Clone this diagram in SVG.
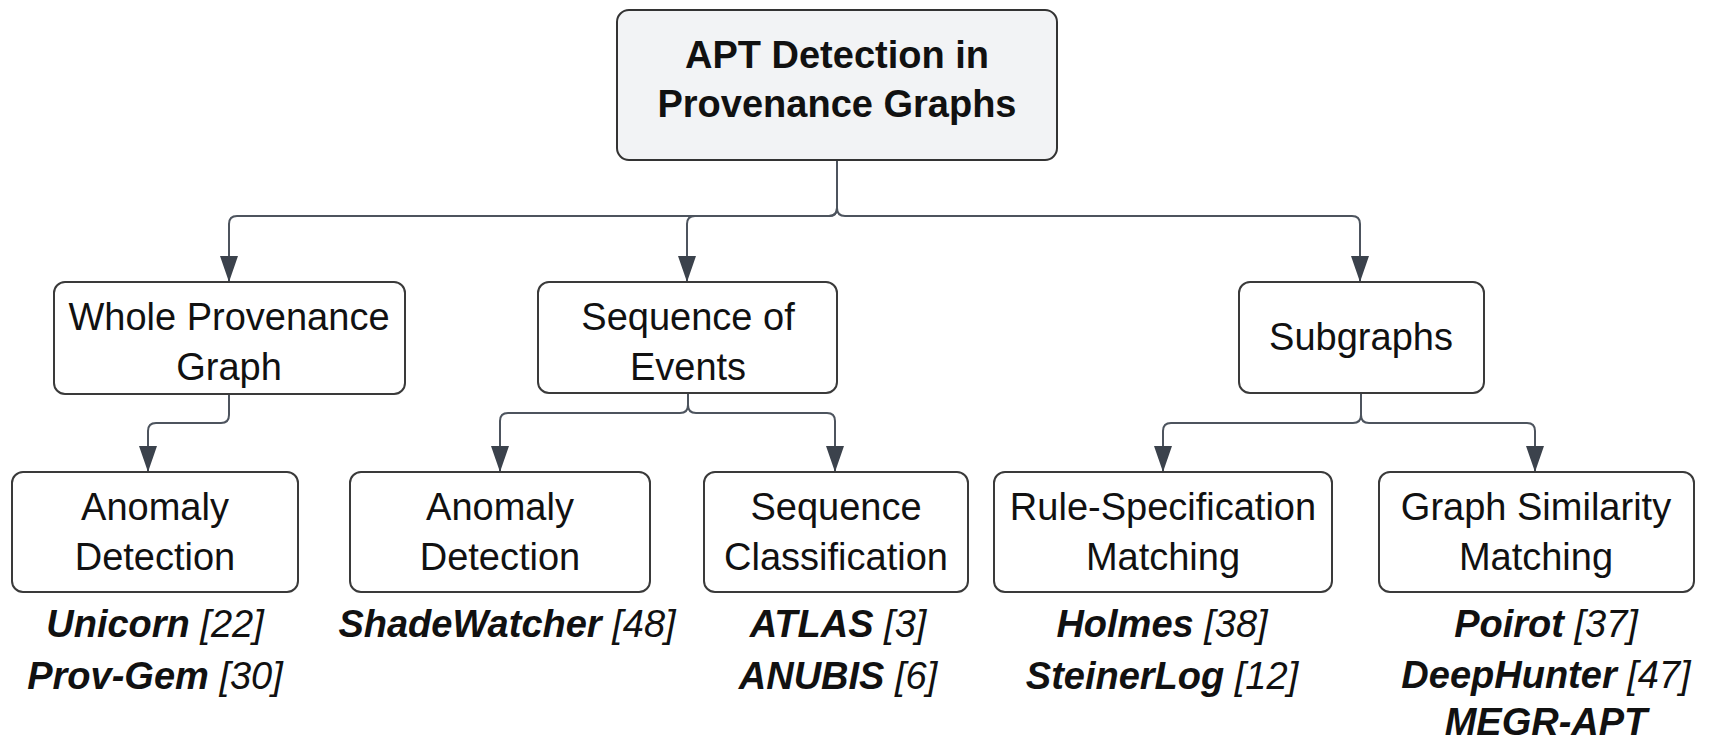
<svg xmlns="http://www.w3.org/2000/svg" width="1712" height="740" viewBox="0 0 1712 740">
  <defs>
    <marker id="arrow" viewBox="0 0 26 18" refX="26" refY="9" markerWidth="26" markerHeight="18" markerUnits="userSpaceOnUse" orient="auto">
      <path d="M0,0 L26,9 L0,18 Z" fill="#3b424c"/>
    </marker>
    <style>
      .box { fill: #ffffff; stroke: #3a3a3a; stroke-width: 2; }
      .root { fill: #f2f3f5; stroke: #333333; stroke-width: 2; }
      .lbl { font-family: "Liberation Sans", Arial, sans-serif; font-size: 38px; fill: #111111; text-anchor: middle; }
      .title { font-weight: bold; }
      .ref { font-family: "Liberation Sans", Arial, sans-serif; font-size: 38px; fill: #111111; text-anchor: middle; font-style: italic; }
      .ref .name { font-weight: bold; }
      .edge { fill: none; stroke: #4d545e; stroke-width: 2; marker-end: url(#arrow); }
    </style>
  </defs>
  <rect width="1712" height="740" fill="#ffffff"/>

  <!-- connectors -->
  <g id="connectors">
    <path class="edge" d="M837,160 L837,208 Q837,216 829,216 L237,216 Q229,216 229,224 L229,282"/>
    <path class="edge" d="M837,160 L837,208 Q837,216 829,216 L695,216 Q687,216 687,224 L687,282"/>
    <path class="edge" d="M837,160 L837,208 Q837,216 845,216 L1352,216 Q1360,216 1360,224 L1360,282"/>
    <path class="edge" d="M229,394 L229,415 Q229,423 221,423 L156,423 Q148,423 148,431 L148,472"/>
    <path class="edge" d="M688,393 L688,405 Q688,413 680,413 L508,413 Q500,413 500,421 L500,472"/>
    <path class="edge" d="M688,393 L688,405 Q688,413 696,413 L827,413 Q835,413 835,421 L835,472"/>
    <path class="edge" d="M1361,393 L1361,415 Q1361,423 1353,423 L1171,423 Q1163,423 1163,431 L1163,472"/>
    <path class="edge" d="M1361,393 L1361,415 Q1361,423 1369,423 L1527,423 Q1535,423 1535,431 L1535,472"/>
  </g>

  <g id="root">
    <rect class="root" x="617" y="10" width="440" height="150" rx="12"/>
    <text class="lbl title" x="837" y="68">APT Detection in</text>
    <text class="lbl title" x="837" y="117">Provenance Graphs</text>
  </g>

  <g id="whole-graph">
    <rect class="box" x="54" y="282" width="351" height="112" rx="11"/>
    <text class="lbl" x="229" y="330">Whole Provenance</text>
    <text class="lbl" x="229" y="380">Graph</text>
  </g>

  <g id="event-sequence">
    <rect class="box" x="538" y="282" width="299" height="111" rx="11"/>
    <text class="lbl" x="688" y="330">Sequence of</text>
    <text class="lbl" x="688" y="380">Events</text>
  </g>

  <g id="subgraphs">
    <rect class="box" x="1239" y="282" width="245" height="111" rx="11"/>
    <text class="lbl" x="1361" y="350">Subgraphs</text>
  </g>

  <g id="whole-anomaly">
    <rect class="box" x="12" y="472" width="286" height="120" rx="11"/>
    <text class="lbl" x="155" y="520">Anomaly</text>
    <text class="lbl" x="155" y="570">Detection</text>
    <text class="ref" x="155" y="637"><tspan class="name">Unicorn</tspan> [22]</text>
    <text class="ref" x="155" y="689"><tspan class="name">Prov-Gem</tspan> [30]</text>
  </g>

  <g id="sequence-anomaly">
    <rect class="box" x="350" y="472" width="300" height="120" rx="11"/>
    <text class="lbl" x="500" y="520">Anomaly</text>
    <text class="lbl" x="500" y="570">Detection</text>
    <text class="ref" x="507" y="637"><tspan class="name">ShadeWatcher</tspan> [48]</text>
  </g>

  <g id="sequence-classification">
    <rect class="box" x="704" y="472" width="264" height="120" rx="11"/>
    <text class="lbl" x="836" y="520">Sequence</text>
    <text class="lbl" x="836" y="570">Classification</text>
    <text class="ref" x="838" y="637"><tspan class="name">ATLAS</tspan> [3]</text>
    <text class="ref" x="838" y="689"><tspan class="name">ANUBIS</tspan> [6]</text>
  </g>

  <g id="rule-matching">
    <rect class="box" x="994" y="472" width="338" height="120" rx="11"/>
    <text class="lbl" x="1163" y="520">Rule-Specification</text>
    <text class="lbl" x="1163" y="570">Matching</text>
    <text class="ref" x="1162" y="637"><tspan class="name">Holmes</tspan> [38]</text>
    <text class="ref" x="1162" y="689"><tspan class="name">SteinerLog</tspan> [12]</text>
  </g>

  <g id="similarity-matching">
    <rect class="box" x="1379" y="472" width="315" height="120" rx="11"/>
    <text class="lbl" x="1536" y="520">Graph Similarity</text>
    <text class="lbl" x="1536" y="570">Matching</text>
    <text class="ref" x="1546" y="637"><tspan class="name">Poirot</tspan> [37]</text>
    <text class="ref" x="1546" y="688"><tspan class="name">DeepHunter</tspan> [47]</text>
    <text class="ref" x="1546" y="735"><tspan class="name">MEGR-APT</tspan></text>
  </g>
</svg>
